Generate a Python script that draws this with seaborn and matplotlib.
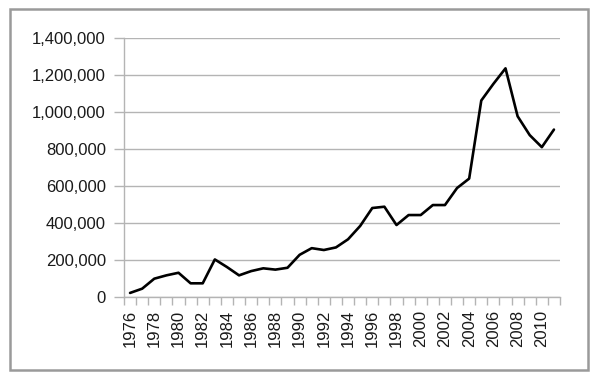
import matplotlib
matplotlib.use("Agg")
import matplotlib.pyplot as plt
import matplotlib.ticker as mticker
from matplotlib.patches import Rectangle
import seaborn as sns
import pandas as pd

years = list(range(1976, 2012))
values = [22000, 45000, 99000, 117000, 131000, 74000, 74000, 203000, 162000, 117000,
          140000, 155000, 148000, 158000, 228000, 264000, 254000, 268000, 312000, 384000,
          481000, 488000, 389000, 443000, 443000, 497000, 497000, 589000, 640000, 1062000,
          1152000, 1236000, 977000, 875000, 810000, 905000]
label_years = list(range(1976, 2011, 2))
y_ticks = [0, 200000, 400000, 600000, 800000, 1000000, 1200000, 1400000]

sns.set_theme(style="white")
plt.rcParams['font.family'] = ['Liberation Sans', 'DejaVu Sans']

df = pd.DataFrame({"year": years, "value": values})

W, H = 592, 377
fig = plt.figure(figsize=(W / 100, H / 100), dpi=100)
ax = fig.add_axes([124 / W, 1 - 297 / H, (560 - 124) / W, (297 - 38) / H])

sns.lineplot(data=df, x="year", y="value", ax=ax, color="black", linewidth=1.9)

ax.set_xlim(years[0] - 0.5, years[-1] + 0.5)
ax.set_ylim(0, 1400000)
ax.set_yticks(y_ticks)
ax.yaxis.set_major_formatter(mticker.FuncFormatter(lambda v, p: f"{int(v):,}"))
ax.set_xticks(label_years)
ax.set_xticklabels([str(y) for y in label_years], rotation=90)
ax.set_xticks([y - 0.5 for y in years] + [years[-1] + 0.5], minor=True)

ax.grid(axis="y", color="#b4b4b4", linewidth=1.0)
ax.set_axisbelow(True)
for s in ["top", "right"]:
    ax.spines[s].set_visible(False)
for s in ["left", "bottom"]:
    ax.spines[s].set_color("#b4b4b4")
    ax.spines[s].set_linewidth(1.0)

ax.tick_params(axis="y", which="major", length=7, width=1, color="#b4b4b4",
               labelsize=12, labelcolor="#1a1a1a", pad=6, left=True)
ax.tick_params(axis="x", which="major", length=0, labelsize=12, labelcolor="#1a1a1a", pad=9)
ax.tick_params(axis="x", which="minor", length=6, width=1, color="#b4b4b4", bottom=True)
ax.set_xlabel("")
ax.set_ylabel("")

fig.patches.append(Rectangle((10 / W, 1 - 370 / H), (588 - 10) / W, (370 - 9) / H,
                             transform=fig.transFigure, fill=False,
                             edgecolor="#9a9a9a", linewidth=1.8))

fig.savefig("out.png", dpi=100)
